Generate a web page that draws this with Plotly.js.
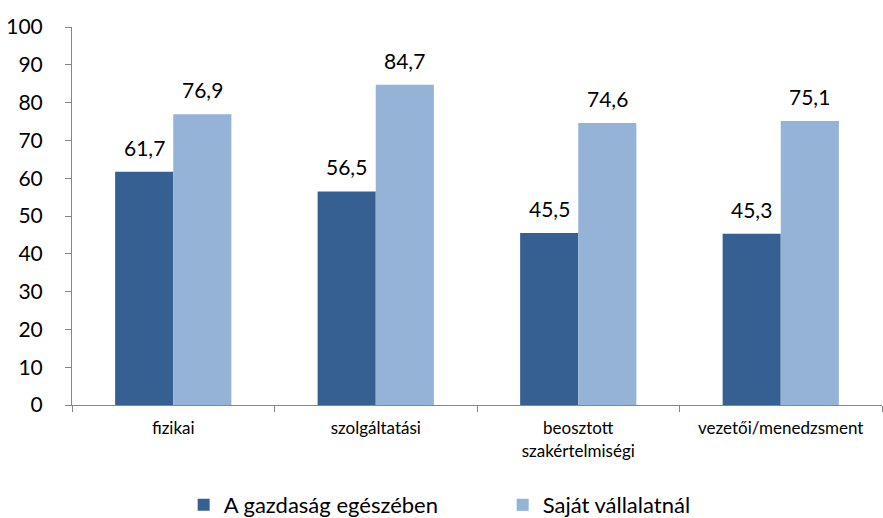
<!DOCTYPE html>
<html>
<head>
<meta charset="utf-8">
<script src="https://cdn.plot.ly/plotly-3.0.1.min.js"></script>
<style>html,body{margin:0;padding:0;background:#fff;}#chart{width:883px;height:518px;}</style>
</head>
<body>
<div id="chart"></div>
<script>
const categories = ["fizikai", "szolgáltatási", "beosztott<br>szakértelmiségi", "vezetői/menedzsment"];
const seriesNames = ["A gazdaság egészében", "Saját vállalatnál"];
const economyValues = [61.7, 56.5, 45.5, 45.3];
const companyValues = [76.9, 84.7, 74.6, 75.1];
const yTicks = [0, 10, 20, 30, 40, 50, 60, 70, 80, 90, 100];

const fmt = v => v.toFixed(1).replace('.', ',');
const font = "Lato, Carlito, Calibri, sans-serif";

const traces = [
  {type: 'bar', name: seriesNames[0], x: categories, y: economyValues,
   marker: {color: '#376092'}, hoverinfo: 'none'},
  {type: 'bar', name: seriesNames[1], x: categories, y: companyValues,
   marker: {color: '#95B3D7'}, hoverinfo: 'none'}
];

const annotations = [];
[[economyValues, -29], [companyValues, 29]].forEach(([vals, dx]) => {
  vals.forEach((v, i) => annotations.push({
    x: categories[i], y: v, xref: 'x', yref: 'y', text: fmt(v), showarrow: false,
    xshift: dx, yshift: 10, yanchor: 'bottom',
    font: {size: 21, family: font, color: '#000'}
  }));
});

const layout = {
  width: 883, height: 518,
  margin: {l: 72, r: 1, t: 27, b: 113},
  paper_bgcolor: '#fff', plot_bgcolor: '#fff',
  barmode: 'group', bargap: 0.426, bargroupgap: 0,
  showlegend: true,
  legend: {orientation: 'h', xref: 'container', yref: 'container',
           x: 0.208, xanchor: 'left', y: 0.025, yanchor: 'middle',
           font: {size: 22, family: font, color: '#000'}, traceorder: 'normal',
           entrywidth: 274},
  annotations: annotations,
  xaxis: {type: 'category', showline: true, linecolor: '#868686', linewidth: 1,
          ticks: 'outside', tickson: 'boundaries', ticklen: 6, tickcolor: '#868686',
          ticklabelstandoff: 8, automargin: false,
          tickfont: {size: 17, family: font, color: '#000'}, showgrid: false, zeroline: false},
  yaxis: {range: [0, 100], tickvals: yTicks, showline: true, linecolor: '#868686', linewidth: 1,
          ticks: 'outside', ticklen: 6, tickcolor: '#868686', showgrid: false, zeroline: false,
          ticklabelstandoff: 18, automargin: false,
          tickfont: {size: 21, family: font, color: '#000'}}
};

Plotly.newPlot('chart', traces, layout, {staticPlot: true});
</script>
</body>
</html>
